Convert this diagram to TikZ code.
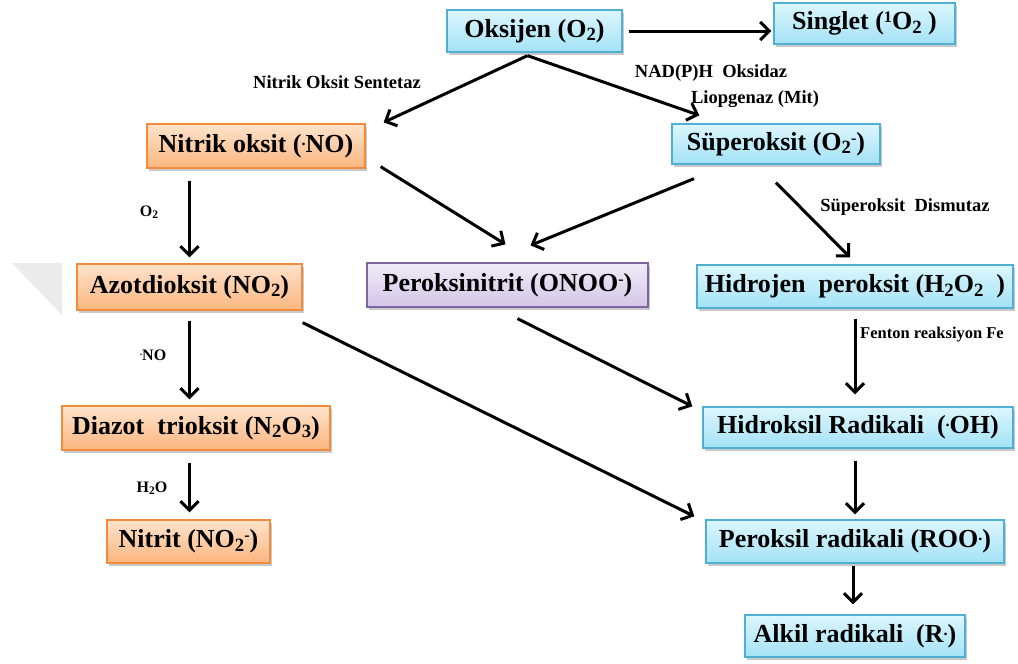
\documentclass[tikz,border=0pt]{standalone}
\usepackage{fontspec}
\setmainfont{Liberation Serif}
\usetikzlibrary{arrows.meta,shadows,calc}

% chemistry-style sub/superscripts that follow the current font
\newcommand\chsub[1]{\raisebox{-0.3ex}{\scalebox{0.72}{#1}}}
\newcommand\chsup[1]{\raisebox{0.6ex}{\scalebox{0.62}{#1}}}

\definecolor{bluetop}{HTML}{DDF6FD}
\definecolor{bluebot}{HTML}{A3E2F6}
\definecolor{blueedge}{HTML}{4FB0D3}
\definecolor{orgtop}{HTML}{FEE3CC}
\definecolor{orgbot}{HTML}{FBB67F}
\definecolor{orgedge}{HTML}{F38B3C}
\definecolor{purtop}{HTML}{F0EBF7}
\definecolor{purbot}{HTML}{D3C6E7}
\definecolor{puredge}{HTML}{8064A2}

\tikzset{
  box/.style={draw, line width=1.3pt, inner sep=0pt, align=center,
    font=\fontsize{26}{30}\selectfont\bfseries,
    drop shadow={shadow xshift=2pt, shadow yshift=-2.5pt, opacity=0.3, fill=black!70}},
  bluebox/.style={box, draw=blueedge, top color=bluetop, bottom color=bluebot},
  orgbox/.style={box, draw=orgedge, top color=orgtop, bottom color=orgbot},
  purbox/.style={box, draw=puredge, top color=purtop, bottom color=purbot},
  arr/.style={line width=3pt, -{Straight Barb[length=9pt,width=18pt]}},
  lbl/.style={font=\fontsize{18.5}{21}\selectfont\bfseries, inner sep=0pt},
  slbl/.style={font=\fontsize{16}{18}\selectfont\bfseries, inner sep=0pt}
}

\begin{document}
\begin{tikzpicture}[x=1pt,y=-1pt]
\useasboundingbox (0,0) rectangle (1018,664);

% faint corner mark on the left margin
\fill[black!8] (12,263) -- (62,263) -- (62,315) -- cycle;

% species boxes
\node[bluebox, minimum width=175pt, minimum height=42pt] (oks)   at (534.5,31)   {Oksijen (O\chsub{2})};
\node[bluebox, minimum width=181pt, minimum height=41pt] (sing)  at (864.5,23.5) {Singlet (\chsup{1}O\chsub{2} )};
\node[orgbox,  minimum width=218pt, minimum height=44pt] (nitr)  at (256,146)    {Nitrik oksit (\chsup{.}NO)};
\node[bluebox, minimum width=208pt, minimum height=40pt] (sup)   at (776,144)    {Süperoksit (O\chsub{2}\chsup{-})};
\node[orgbox,  minimum width=225pt, minimum height=46pt] (azot)  at (189.5,287)  {Azotdioksit (NO\chsub{2})};
\node[purbox,  minimum width=281pt, minimum height=44pt] (perox) at (507.5,285)  {Peroksinitrit (ONOO\chsup{-})};
\node[bluebox, minimum width=316pt, minimum height=43pt] (hp)    at (855,286.5)  {Hidrojen \ peroksit (H\chsub{2}O\chsub{2} \ )};
\node[orgbox,  minimum width=268pt, minimum height=44pt] (diaz)  at (196,428)    {Diazot \ trioksit (N\chsub{2}O\chsub{3})};
\node[orgbox,  minimum width=163pt, minimum height=43pt] (nitt)  at (188.5,541.5) {Nitrit (NO\chsub{2}\chsup{-})};
\node[bluebox, minimum width=310pt, minimum height=41pt] (hyd)   at (858,427.5)  {Hidroksil Radikali \ (\chsup{.}OH)};
\node[bluebox, minimum width=298pt, minimum height=43pt] (roo)   at (855,541.5)  {Peroksil radikali (ROO\chsup{.})};
\node[bluebox, minimum width=220pt, minimum height=42pt] (alk)   at (855,636)    {Alkil radikali \ (R\chsup{.})};

% enzyme / reagent labels
\node[lbl] (lnos) at (337,82)  {Nitrik Oksit Sentetaz};
\node[lbl] (lnad) at (711,73)  {NAD(P)H \ Oksidaz};
\node[lbl] (llip) at (755,99)  {Liopgenaz (Mit)};
\node[lbl] (lsod) at (905,207) {Süperoksit \ Dismutaz};
\node[lbl, anchor=west, font=\fontsize{16.5}{20}\selectfont\bfseries] (lfen) at (860,335) {Fenton reaksiyon Fe};
\node[slbl] (lo2)  at (149,212) {O\chsub{2}};
\node[slbl] (lno)  at (153,355) {\chsup{.}NO};
\node[slbl] (lh2o) at (152,488) {H\chsub{2}O};

% reaction arrows
\draw[arr, shorten <=6pt, shorten >=2pt] (oks.east) -- (oks.east -| sing.west);
\draw[arr] ($(oks.south)+(-7,3)$) -- ($(nitr.north east)+(18,-1)$);
\draw[arr] ($(oks.south)+(-7,3)$) -- ($(sup.north west)+(28,-8)$);
\draw[arr, shorten <=12pt, shorten >=6pt] (azot.north |- nitr.south) -- (azot.north);
\draw[arr] ($(nitr.south east)+(15,-2)$) -- ($(perox.north)+(-2,-18)$);
\draw[arr] ($(sup.south)+(-82,14)$) -- ($(perox.north)+(23,-17)$);
\draw[arr] ($(sup.south)+(0,18)$) -- ($(hp.north)+(-5,-7)$);
\draw[arr, shorten <=10pt, shorten >=6pt] (azot.south -| azot.north) -- (diaz.north -| azot.north);
\draw[arr, shorten <=12pt, shorten >=7pt] (diaz.south -| azot.north) -- (nitt.north -| azot.north);
\draw[arr, shorten <=10pt, shorten >=12pt] (hp.south) -- (hp.south |- hyd.north);
\draw[arr] ($(perox.south)+(10,11)$) -- ($(hyd.north west)+(-10,0)$);
\draw[arr] ($(azot.south east)+(0,12)$) -- ($(roo.north west)+(-11,-3)$);
\draw[arr, shorten <=12pt, shorten >=5pt] (roo.north |- hyd.south) -- (roo.north);
\draw[arr, shorten <=2pt, shorten >=10pt] ($(roo.south)+(-2,0)$) -- ($(alk.north)+(-2,0)$);
\end{tikzpicture}
\end{document}
